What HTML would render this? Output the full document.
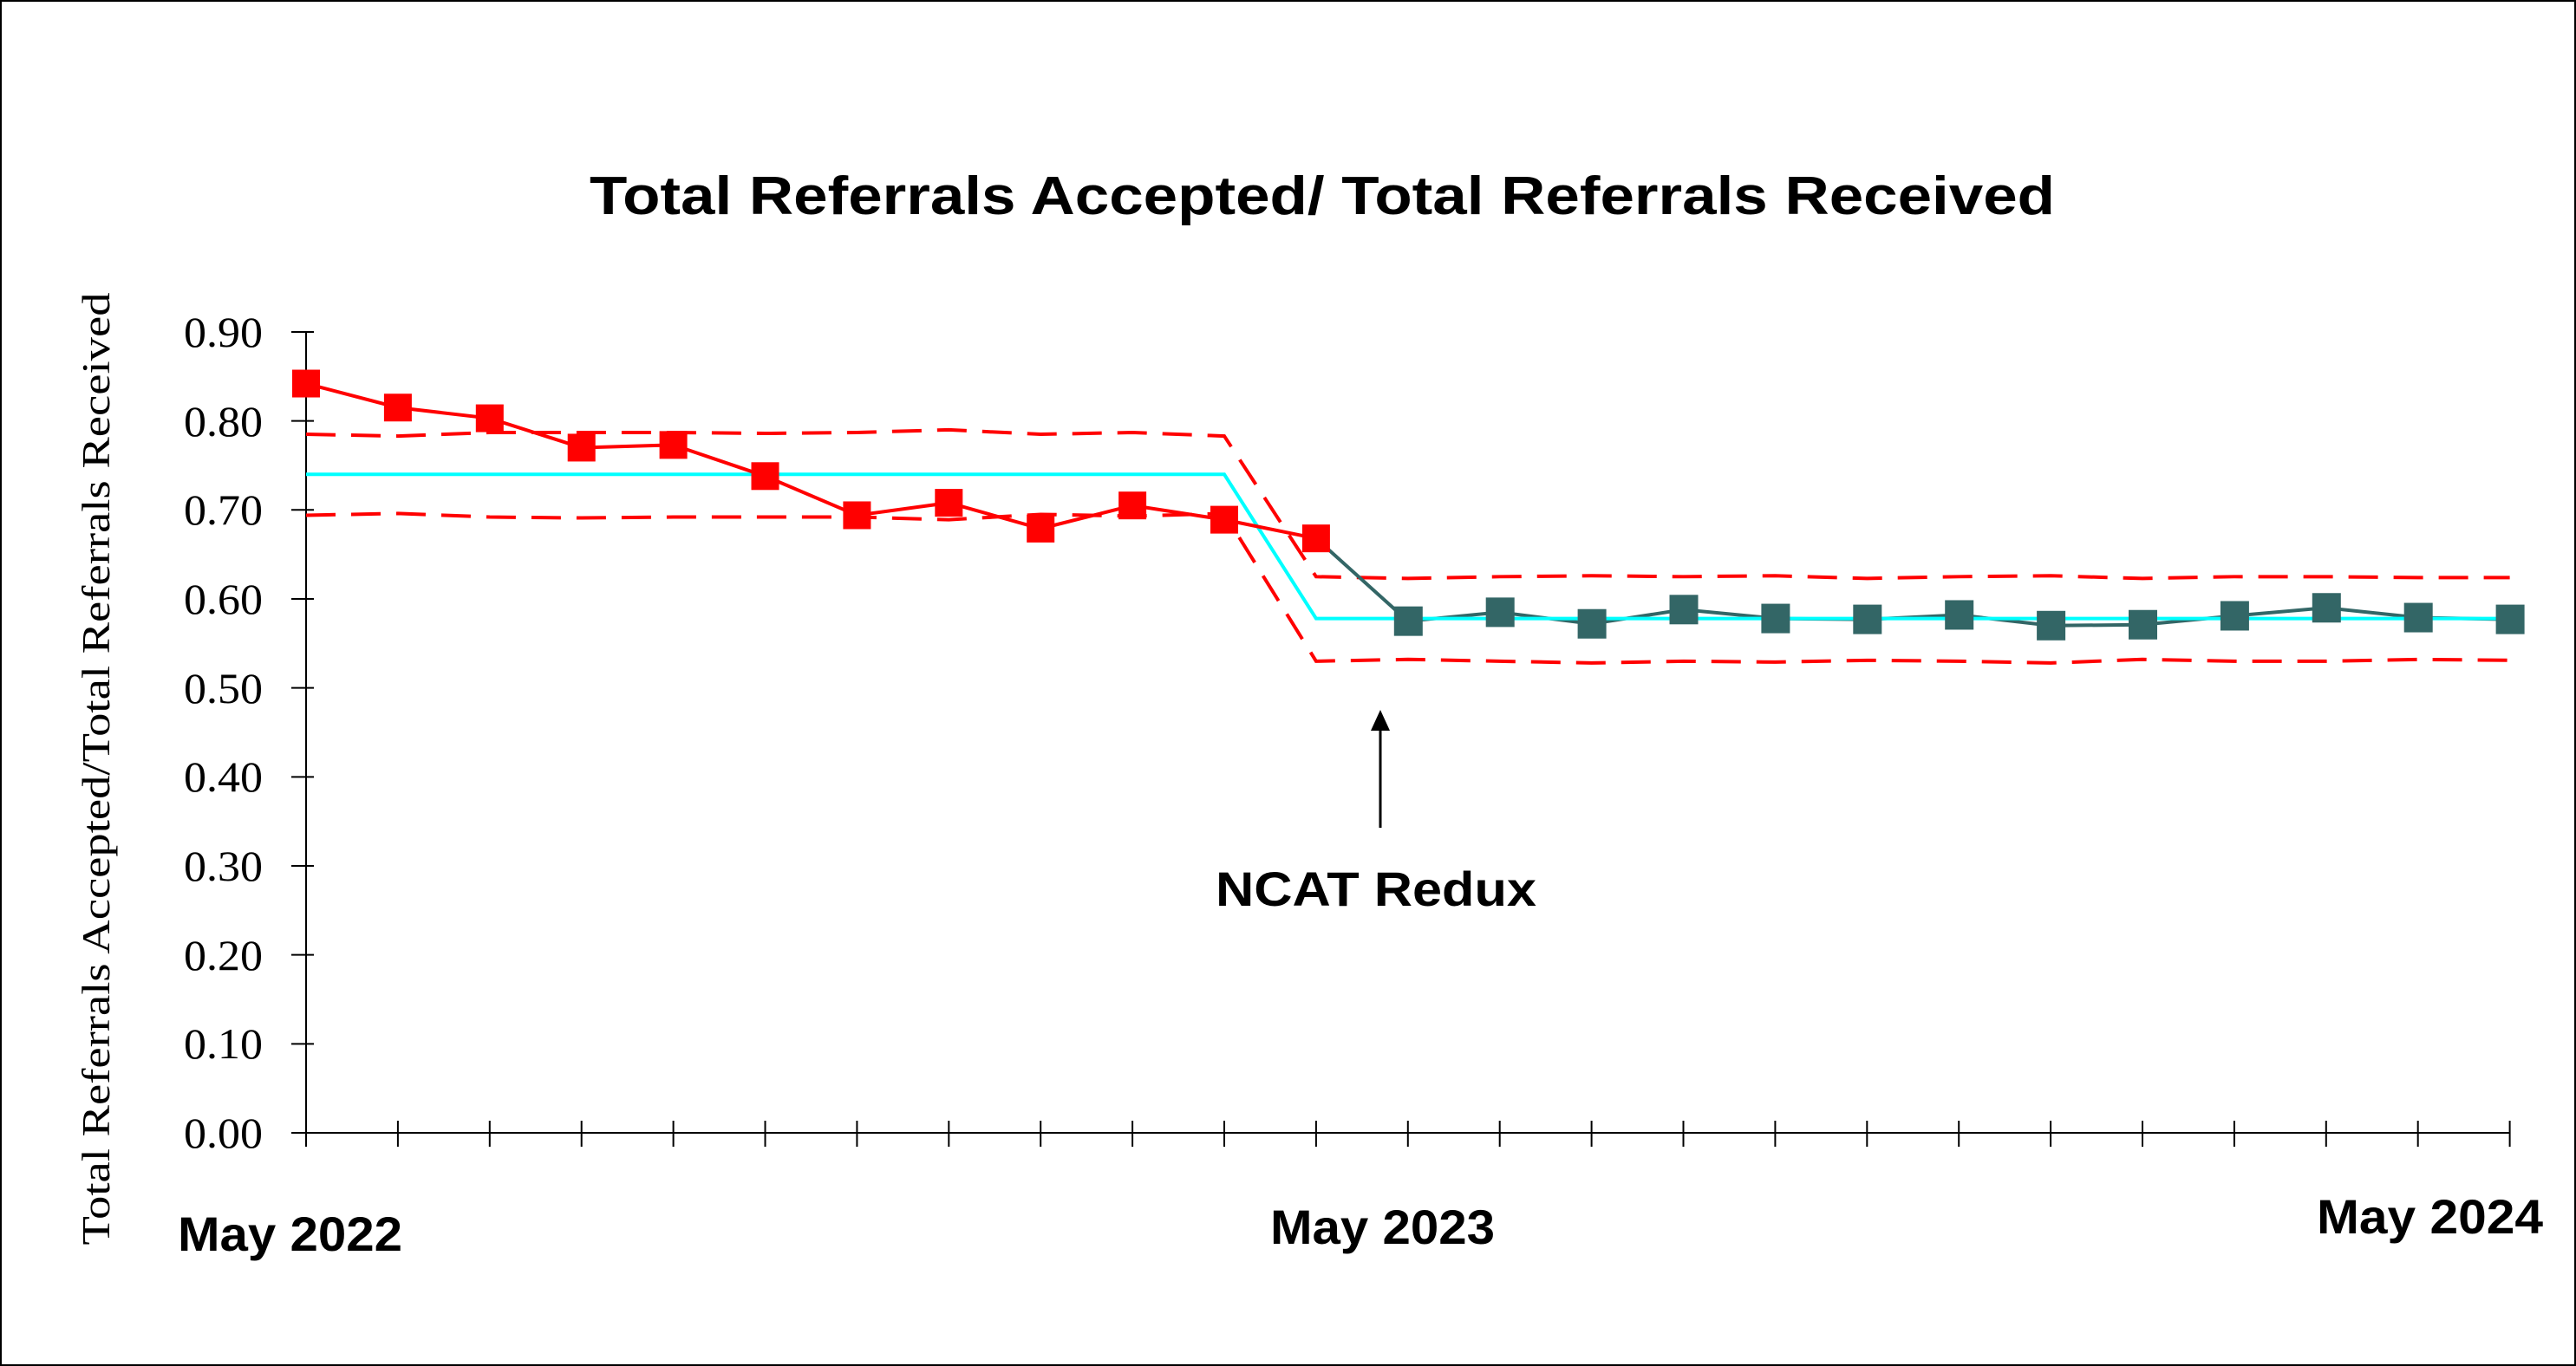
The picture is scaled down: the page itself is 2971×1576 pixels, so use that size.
<!DOCTYPE html>
<html><head><meta charset="utf-8"><style>
html,body{margin:0;padding:0;background:#fff}
svg{display:block}
</style></head><body>
<svg id="s" width="2971" height="1576" viewBox="0 0 2971 1576" xmlns="http://www.w3.org/2000/svg">
<rect x="1" y="1" width="2969" height="1574" fill="#fff" stroke="#000" stroke-width="2"/>
<text x="1525" y="247" font-family="Liberation Sans, sans-serif" font-weight="bold" font-size="62" text-anchor="middle" textLength="1690" lengthAdjust="spacingAndGlyphs">Total Referrals Accepted/ Total Referrals Received</text>
<g font-family="Liberation Serif, serif" font-size="50" text-anchor="end">
<text x="303" y="400" textLength="91" lengthAdjust="spacingAndGlyphs">0.90</text><text x="303" y="503" textLength="91" lengthAdjust="spacingAndGlyphs">0.80</text><text x="303" y="605" textLength="91" lengthAdjust="spacingAndGlyphs">0.70</text>
<text x="303" y="708" textLength="91" lengthAdjust="spacingAndGlyphs">0.60</text><text x="303" y="811" textLength="91" lengthAdjust="spacingAndGlyphs">0.50</text><text x="303" y="913" textLength="91" lengthAdjust="spacingAndGlyphs">0.40</text>
<text x="303" y="1016" textLength="91" lengthAdjust="spacingAndGlyphs">0.30</text><text x="303" y="1119" textLength="91" lengthAdjust="spacingAndGlyphs">0.20</text><text x="303" y="1221" textLength="91" lengthAdjust="spacingAndGlyphs">0.10</text>
<text x="303" y="1324" textLength="91" lengthAdjust="spacingAndGlyphs">0.00</text>
</g>
<text transform="translate(126,887) rotate(-90)" font-family="Liberation Serif, serif" font-size="45" text-anchor="middle" textLength="1099" lengthAdjust="spacingAndGlyphs">Total Referrals Accepted/Total Referrals Received</text>
<g font-family="Liberation Sans, sans-serif" font-weight="bold" font-size="56">
<text x="205" y="1443" textLength="259" lengthAdjust="spacingAndGlyphs">May 2022</text>
<text x="1465" y="1435" textLength="259" lengthAdjust="spacingAndGlyphs">May 2023</text>
<text x="2672" y="1423" textLength="261" lengthAdjust="spacingAndGlyphs">May 2024</text>
<text x="1402" y="1045" textLength="370" lengthAdjust="spacingAndGlyphs">NCAT Redux</text>
</g>
<line x1="1592" y1="955" x2="1592" y2="840" stroke="#000" stroke-width="3"/>
<polygon points="1592,819 1581,843 1603,843" fill="#000"/>
<g id="g"></g>
</svg>
<script>
var g=document.getElementById('g'),NS='http://www.w3.org/2000/svg';
function X(i){return 353+105.9*i}function Y(v){return 1307-v*1026.7}
function el(t,a){var e=document.createElementNS(NS,t);for(var k in a)e.setAttribute(k,a[k]);g.appendChild(e);return e}
el('line',{x1:353,y1:383,x2:353,y2:1307,stroke:'#000','stroke-width':2});
el('line',{x1:353,y1:1307,x2:2894,y2:1307,stroke:'#000','stroke-width':2});
for(var k=0;k<=9;k++)el('line',{x1:336,x2:362,y1:Y(k/10),y2:Y(k/10),stroke:'#000','stroke-width':2});
for(var i=0;i<=24;i++)el('line',{x1:X(i),x2:X(i),y1:1293,y2:1323,stroke:'#000','stroke-width':2});
var ucl=[0.785,0.783,0.787,0.787,0.787,0.786,0.787,0.790,0.785,0.787,0.783,0.625,0.623,0.625,0.626,0.625,0.626,0.623,0.625,0.626,0.623,0.625,0.625,0.624,0.624];
var lcl=[0.694,0.696,0.692,0.691,0.692,0.692,0.692,0.689,0.695,0.693,0.696,0.530,0.532,0.530,0.528,0.530,0.529,0.531,0.530,0.528,0.532,0.530,0.530,0.532,0.531];
var cl=[];for(i=0;i<25;i++)cl.push(i<=10?0.74:0.578);
var red=[0.842,0.815,0.803,0.770,0.773,0.738,0.694,0.708,0.679,0.705,0.689,0.668];
var teal=[0.575,0.585,0.572,0.588,0.578,0.577,0.582,0.570,0.571,0.581,0.590,0.579,0.577];
function pts(a,o){return a.map(function(v,j){return X(j+(o||0))+','+Y(v)}).join(' ')}
el('polyline',{points:pts(ucl),fill:'none',stroke:'#f00','stroke-width':4,'stroke-dasharray':'34,18'});
el('polyline',{points:pts(lcl),fill:'none',stroke:'#f00','stroke-width':4,'stroke-dasharray':'34,18'});
el('polyline',{points:X(11)+','+Y(0.668)+' '+pts(teal,12),fill:'none',stroke:'#336666','stroke-width':4});
el('polyline',{points:pts(cl),fill:'none',stroke:'#00ffff','stroke-width':4});
el('polyline',{points:pts(red),fill:'none',stroke:'#f00','stroke-width':4});
red.forEach(function(v,j){el('rect',{x:X(j)-16,y:Y(v)-16,width:32,height:32,fill:'#f00'})});
teal.forEach(function(v,j){el('rect',{x:X(j+12)-16,y:Y(v)-17,width:33,height:34,fill:'#336666'})});
</script>
</body></html>
